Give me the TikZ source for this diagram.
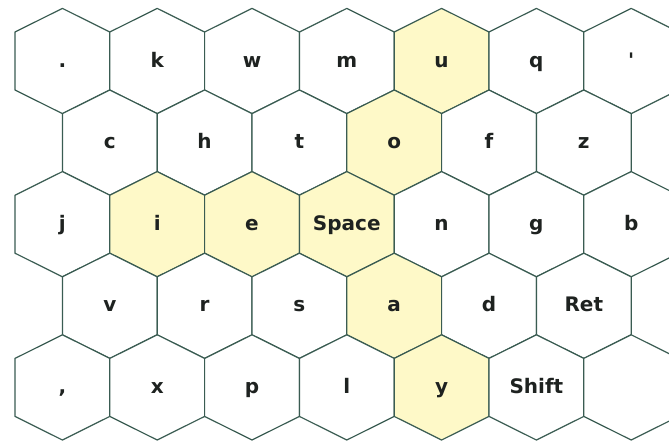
\documentclass[tikz,border=0pt]{standalone}
\usepackage{fontspec}
\setmainfont{DejaVu Sans}
\definecolor{HexEdge}{RGB}{58,92,82}
\definecolor{HexYellow}{RGB}{254,249,200}
\definecolor{KeyInk}{RGB}{30,34,32}
\newcommand{\hexpath}[2]{(#1,#2) ++(0,-52.6) -- ++(47.4,23.6) -- ++(0,58) -- ++(-47.4,23.6) -- ++(-47.4,-23.6) -- ++(0,-58) -- cycle}

\begin{document}
\begin{tikzpicture}[x=1pt,y=-1pt,font=\fontsize{20}{24}\selectfont\bfseries,
  hexcell/.style={draw=HexEdge,line width=1.2pt,fill=white,line join=round},
  hothex/.style={hexcell,fill=HexYellow},
  keytext/.style={text=KeyInk,text height=12pt,text depth=0pt,inner sep=0pt}]
\useasboundingbox (0,0) rectangle (669,445);
\clip (0,0) rectangle (669,445);
\fill[white] (0,0) rectangle (669,445);
\foreach \cx/\cy/\look/\nm/\txt in {
  62.4/61/hexcell/kdot/., 157.2/61/hexcell/kk/k, 252/61/hexcell/kw/w,
  346.8/61/hexcell/km/m, 441.6/61/hothex/ku/u, 536.4/61/hexcell/kq/q,
  631.2/61/hexcell/kapos/\textquotesingle,
  109.8/142.6/hexcell/kc/c, 204.6/142.6/hexcell/kh/h, 299.4/142.6/hexcell/kt/t,
  394.2/142.6/hothex/ko/o, 489/142.6/hexcell/kf/f, 583.8/142.6/hexcell/kz/z,
  62.4/224.2/hexcell/kj/j, 157.2/224.2/hothex/ki/i, 252/224.2/hothex/ke/e,
  346.8/224.2/hothex/kspace/Space, 441.6/224.2/hexcell/kn/n,
  536.4/224.2/hexcell/kg/g, 631.2/224.2/hexcell/kb/b,
  109.8/305.8/hexcell/kv/v, 204.6/305.8/hexcell/kr/r, 299.4/305.8/hexcell/ks/s,
  394.2/305.8/hothex/ka/a, 489/305.8/hexcell/kd/d, 583.8/305.8/hexcell/kret/Ret,
  62.4/387.4/hexcell/kcomma/{,}, 157.2/387.4/hexcell/kx/x, 252/387.4/hexcell/kp/p,
  346.8/387.4/hexcell/kl/l, 441.6/387.4/hothex/ky/y,
  536.4/387.4/hexcell/kshift/Shift, 631.2/387.4/hexcell/kblank/{}}
{\path[\look] \hexpath{\cx}{\cy};
 \node[keytext] (\nm) at (\cx,\cy) {\txt};}
\end{tikzpicture}
\end{document}
